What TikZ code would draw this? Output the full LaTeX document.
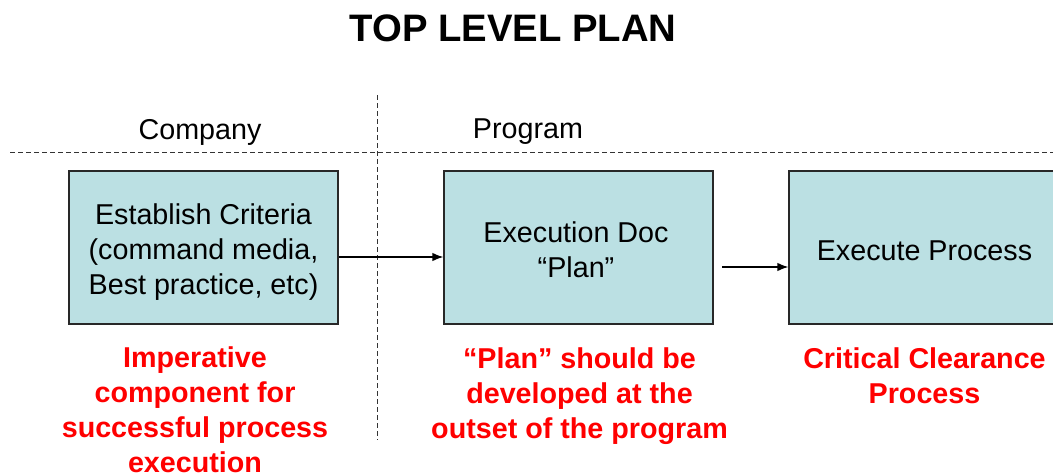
\documentclass[tikz,border=0pt]{standalone}
\usepackage{fontspec}
\setmainfont{Liberation Sans}
\usetikzlibrary{arrows.meta}
\definecolor{boxfill}{RGB}{187,224,227}
\definecolor{boxline}{RGB}{40,40,40}
\definecolor{notered}{RGB}{255,0,0}
\begin{document}
\begin{tikzpicture}[x=1pt,y=-1pt,
  stepbox/.style={draw=boxline, line width=1.3pt, fill=boxfill, minimum height=153pt, inner sep=0pt},
  boxtext/.style={align=center, inner sep=0pt, font=\fontsize{28.7}{35}\selectfont},
  note/.style={text=notered, align=center, inner sep=0pt, font=\fontsize{28.7}{35}\selectfont\bfseries},
  label/.style={inner sep=0pt, font=\fontsize{28.7}{35}\selectfont},
  divider/.style={line width=0.9pt, dash pattern=on 5pt off 3pt, black!80},
  arr/.style={line width=1.3pt, -{Latex[length=11pt,width=8.5pt]}}]
\useasboundingbox (0,0) rectangle (1053,474);
\begin{scope}
\clip (0,0) rectangle (1053,474);
% title
\node[inner sep=0pt, font=\fontsize{38.3}{44}\selectfont\bfseries] (title) at (513,28) {TOP LEVEL PLAN};
% dividers
\coordinate (hl) at (10,152);
\coordinate (hr) at (1053,152);
\coordinate (vt) at (377,95);
\coordinate (vb) at (377,440);
\draw[divider] (hl) -- (hr);
\draw[divider] (vt) -- (vb);
% column labels
\node[label] (company) at (200,132) {Company};
\node[label] (program) at (528,132) {Program};
% boxes
\node[stepbox, minimum width=269pt] (b1) at (203.5,247.5) {};
\node[stepbox, minimum width=269pt] (b2) at (578.5,247.5) {};
\node[stepbox, minimum width=271pt] (b3) at (924.5,247.5) {};
\node[boxtext] (t1) at (203.5,252.5) {Establish Criteria\\(command media,\\Best practice, etc)};
\node[boxtext] (t2) at (576,250) {Execution Doc\\\char"201C Plan\char"201D};
\node[boxtext] (t3) at (924.5,251) {Execute Process};
% arrows
\draw[arr] ([yshift=-9.5pt]b1.east) -- ([yshift=-9.5pt]b2.west);
\coordinate (a2s) at (722,267);
\draw[arr] (a2s) -- ([yshift=-19.5pt]b3.west);
% notes
\node[note] (n1) at (195,410) {Imperative\\component for\\successful process\\execution};
\node[note] (n2) at (579.5,396) {\char"201C Plan\char"201D{} should be\\developed at the\\outset of the program};
\node[note] (n3) at (924.5,375.5) {Critical Clearance\\Process};
\end{scope}
\end{tikzpicture}
\end{document}
